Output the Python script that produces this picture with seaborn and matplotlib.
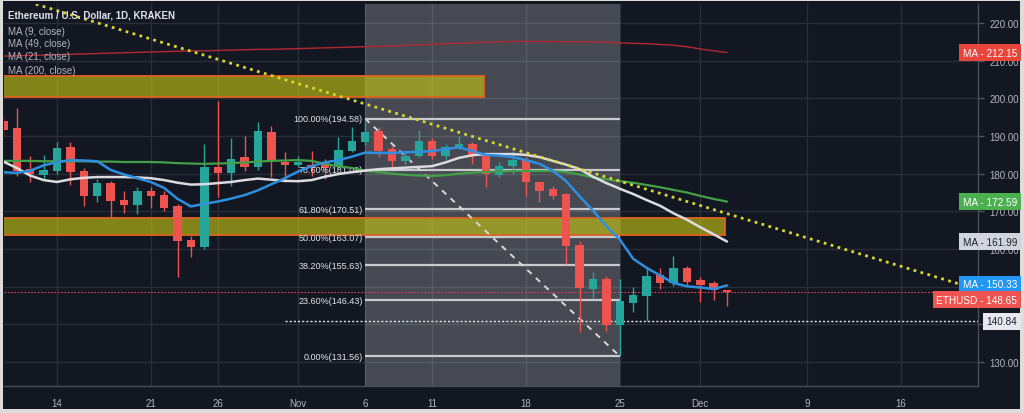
import numpy as np
import pandas as pd
import matplotlib
matplotlib.use("Agg")
import matplotlib.pyplot as plt
import matplotlib.dates as mdates
import seaborn as sns
from matplotlib.transforms import blended_transform_factory
from matplotlib.patches import Rectangle

# ---------------- data ----------------
dates = pd.date_range("2019-10-10", "2019-12-03", freq="D")
opens = [194.0, 192.0, 181.2, 179.6, 180.7, 187.0, 180.7, 174.0, 177.5, 173.0,
         171.7, 175.4, 174.3, 171.4, 162.4, 160.5, 181.8, 180.2, 184.4, 181.8,
         191.0, 183.1, 182.3, 182.4, 183.1, 181.8, 186.0, 188.4, 191.3, 186.6,
         183.4, 184.7, 188.7, 184.7, 186.8, 187.9, 184.7, 179.6, 182.0, 183.6,
         177.8, 176.0, 174.6, 161.0, 149.4, 152.0, 139.8, 145.7, 147.5, 153.1,
         151.0, 155.0, 151.8, 151.0, 149.0]
highs = [195.5, 197.5, 184.7, 185.0, 188.5, 188.5, 181.5, 178.6, 178.0, 175.4,
         176.5, 176.5, 175.4, 172.0, 163.5, 188.0, 199.3, 189.5, 190.0, 193.7,
         192.7, 185.8, 184.7, 186.0, 183.9, 189.7, 192.4, 194.58, 192.4, 187.3,
         185.8, 191.6, 189.5, 187.9, 190.0, 188.4, 185.2, 183.0, 186.0, 184.4,
         177.8, 176.7, 175.0, 162.0, 153.9, 152.8, 152.0, 150.0, 155.2, 155.0,
         158.1, 155.5, 152.6, 151.5, 149.2]
lows = [190.0, 179.5, 177.8, 178.6, 180.0, 177.0, 171.5, 172.5, 168.0, 169.6,
        169.3, 171.0, 170.0, 152.6, 158.0, 160.0, 173.8, 176.7, 180.7, 181.0,
        179.0, 177.8, 181.8, 179.4, 178.6, 181.5, 185.8, 187.5, 184.4, 181.8,
        182.6, 184.4, 183.9, 183.9, 186.6, 182.6, 176.5, 179.0, 180.0, 174.0,
        172.5, 173.3, 156.0, 138.0, 147.0, 138.2, 131.56, 143.3, 140.9, 149.4,
        150.2, 150.2, 146.0, 146.5, 145.0]
closes = [191.5, 180.7, 179.9, 181.0, 186.8, 180.4, 174.0, 177.5, 172.7, 171.7,
          175.4, 174.0, 171.0, 162.0, 160.5, 181.7, 180.2, 184.0, 181.8, 191.3,
          183.4, 182.3, 183.1, 181.6, 181.5, 186.3, 188.7, 191.1, 186.0, 183.4,
          184.7, 188.7, 184.7, 187.1, 187.9, 185.0, 179.9, 182.0, 183.6, 177.8,
          175.4, 174.0, 160.8, 149.7, 152.0, 139.8, 146.2, 147.8, 152.8, 151.0,
          155.0, 151.2, 150.4, 149.0, 148.65]

ma9 = [180.4, 180.2, 180.8, 182.2, 183.1, 183.6, 183.5, 183.3, 181.0, 179.8,
       178.8, 177.8, 176.2, 173.3, 171.3, 172.0, 172.6, 173.4, 174.3, 175.6,
       177.2, 178.8, 180.6, 182.0, 183.0, 183.6, 184.5, 185.6, 185.5, 185.5,
       185.7, 185.8, 186.0, 186.5, 187.0, 186.0, 185.0, 184.8, 184.4, 183.6,
       182.6, 180.8, 178.0, 174.0, 170.2, 166.0, 162.5, 157.4, 155.0, 153.0,
       151.0, 150.1, 149.8, 149.4, 150.33]
ma21 = [183.2, 181.5, 179.5, 178.3, 177.8, 178.5, 178.9, 179.1, 179.1, 179.1,
        179.0, 178.8, 178.3, 177.6, 177.1, 177.2, 177.5, 177.8, 178.3, 178.7,
        178.4, 178.1, 178.0, 178.3, 179.2, 179.9, 180.4, 180.8, 181.2, 181.4,
        181.6, 181.8, 182.0, 183.0, 184.2, 184.9, 185.2, 185.2, 185.2, 185.0,
        184.4, 183.4, 182.4, 181.2, 179.2, 177.5, 176.0, 174.6, 173.0, 171.5,
        169.5, 167.8, 165.8, 163.9, 161.99]
ma49 = [183.4, 183.4, 183.4, 183.3, 183.3, 183.3, 183.3, 183.2, 183.2, 183.1,
        183.1, 183.1, 183.0, 182.8, 182.7, 182.6, 182.7, 182.8, 183.0, 183.2,
        183.4, 183.5, 183.6, 183.4, 182.6, 182.0, 181.5, 180.8, 180.4, 180.0,
        179.7, 179.5, 179.4, 179.6, 180.0, 180.3, 180.5, 180.6, 180.7, 180.7,
        180.7, 180.7, 180.4, 179.8, 179.0, 178.5, 178.0, 177.6, 177.0, 176.4,
        175.7, 175.0, 174.1, 173.3, 172.59]
ma200 = [211.2, 211.3, 211.4, 211.5, 211.6, 211.7, 211.8, 211.9, 212.0, 212.1,
         212.2, 212.3, 212.4, 212.5, 212.6, 212.6, 212.7, 212.8, 212.9, 213.0,
         213.0, 213.1, 213.2, 213.3, 213.4, 213.5, 213.6, 213.7, 213.8, 213.9,
         214.1, 214.2, 214.4, 214.5, 214.6, 214.8, 214.9, 215.0, 215.1, 215.1,
         215.1, 215.1, 215.0, 215.0, 215.0, 214.9, 214.7, 214.6, 214.5, 214.3,
         214.1, 213.7, 213.1, 212.6, 212.15]

fib_levels = [194.58, 181.09, 170.51, 163.07, 155.63, 146.43, 131.56]
fib_labels = ["100.00%(194.58)", "78.60%(181.09)", "61.80%(170.51)", "50.00%(163.07)",
              "38.20%(155.63)", "23.60%(146.43)", "0.00%(131.56)"]
fib_start, fib_end = "2019-11-06", "2019-11-25"

trend_x = ["2019-10-12 10:00", "2019-12-21 00:00"]
trend_y = [225.0, 150.0]

zone_top = (200.3, 206.0, "2019-10-01", "2019-11-14 21:00")
zone_mid = (163.7, 168.3, "2019-10-01", "2019-12-02 20:00")

hline_level = 140.84
last_price = 148.65

xtick_dates = ["2019-10-14", "2019-10-21", "2019-10-26", "2019-11-01", "2019-11-06",
               "2019-11-11", "2019-11-18", "2019-11-25", "2019-12-01", "2019-12-09",
               "2019-12-16"]
xtick_labels = ["14", "21", "26", "Nov", "6", "11", "18", "25", "Dec", "9", "16"]
yticks = [130, 140, 150, 160, 170, 180, 190, 200, 210, 220]
ytick_labels = ["130.00", "", "", "160.00", "170.00", "180.00", "190.00", "200.00",
                "210.00", "220.00"]

legend_lines = ["Ethereum / U.S. Dollar, 1D, KRAKEN", "MA (9, close)", "MA (49, close)",
                "MA (21, close)", "MA (200, close)"]

# ---------------- style ----------------
sns.set_style("dark")
plt.rcParams["font.family"] = ["Liberation Sans", "DejaVu Sans"]

BG = "#131722"
UP = "#26a69a"
DN = "#ef5350"
TXT = "#b2b5be"
GRID = "#2a2e39"

W, H = 1024, 414
fig = plt.figure(figsize=(W / 100, H / 100), dpi=100)
fig.patch.set_facecolor("#dcdcdc")
fig.add_artist(Rectangle((3 / W, 4 / H), 1017 / W, 408 / H, transform=fig.transFigure,
                         facecolor=BG, edgecolor="none", zorder=0))

ax = fig.add_axes([4 / W, 1 - 387 / H, 974 / W, 382 / H])
ax.set_facecolor(BG)

df = pd.DataFrame({"date": dates, "open": opens, "high": highs, "low": lows,
                   "close": closes, "ma9": ma9, "ma21": ma21, "ma49": ma49,
                   "ma200": ma200})
x = mdates.date2num(df["date"])
base = mdates.date2num(pd.Timestamp("2019-10-14"))

# shaded fib region
fs = mdates.date2num(pd.Timestamp(fib_start)); fe = mdates.date2num(pd.Timestamp(fib_end))
ax.axvspan(fs, fe, color="white", alpha=0.22, lw=0, zorder=1)

# zones
for lo, hi, s, e in (zone_top, zone_mid):
    s_n = mdates.date2num(pd.Timestamp(s)); e_n = mdates.date2num(pd.Timestamp(e))
    ax.add_patch(Rectangle((s_n, lo), e_n - s_n, hi - lo, facecolor="#c8c814", alpha=0.62,
                           edgecolor="none", zorder=2))
    ax.add_patch(Rectangle((s_n, lo), e_n - s_n, hi - lo, facecolor="none",
                           edgecolor="#e0641e", lw=1.3, zorder=2.1))

# fib lines
for lvl, lab in zip(fib_levels, fib_labels):
    ax.hlines(lvl, fs, fe, color="#c9c9cf", lw=1.6, zorder=3)
    ax.text(fs - 0.2, lvl, lab, ha="right", va="center", color="#e6e6ea", fontsize=6.5,
            zorder=6)
ax.plot([fs, fe], [fib_levels[0], fib_levels[-1]], color="#d8d8dc", lw=1.4,
        ls=(0, (3, 3)), zorder=3)

# price line & horizontal ray
ax.axhline(last_price, color="#e0405a", lw=0.8, ls=(0, (1.5, 1.5)), zorder=3)
ax.hlines(hline_level, mdates.date2num(pd.Timestamp("2019-10-31")), base + 80,
          color="#e8e8ec", lw=1.0, ls=(0, (1.5, 1.5)), zorder=3)

# candles
colors = [UP if c >= o else DN for o, c in zip(opens, closes)]
ax.vlines(x, lows, highs, colors=colors, lw=1.0, zorder=4)
body_lo = np.minimum(opens, closes)
body_h = np.maximum(np.abs(np.array(closes) - np.array(opens)), 0.35)
ax.bar(x, body_h, bottom=body_lo, width=0.64, color=colors, lw=0, zorder=5)

# moving averages
sns.lineplot(x=x, y=df["ma200"], ax=ax, color="#b22833", lw=1.0, zorder=6)
sns.lineplot(x=x, y=df["ma49"], ax=ax, color="#43a047", lw=1.6, zorder=6)
sns.lineplot(x=x, y=df["ma21"], ax=ax, color="#dcdce0", lw=1.8, zorder=6)
sns.lineplot(x=x, y=df["ma9"], ax=ax, color="#2e8fe0", lw=1.8, zorder=6)

# trendline
tx = mdates.date2num(pd.to_datetime(trend_x))
ax.plot(tx, trend_y, color="#d8d830", lw=2.0, ls=(0, (1, 1.6)), zorder=7)

# axes formatting
ax.set_xlim(base - 3.955, base + 68.73)
ax.set_ylim(123.64, 225.04)
ax.set_xlabel(""); ax.set_ylabel("")
ax.yaxis.tick_right()
ax.set_yticks(yticks)
ax.set_yticklabels(ytick_labels)
xt = mdates.date2num(pd.to_datetime(xtick_dates))
ax.set_xticks(xt)
ax.set_xticklabels(xtick_labels)
ax.tick_params(axis="both", colors="#50535e", labelcolor=TXT, labelsize=7, length=4,
               width=1)
ax.tick_params(axis="x", pad=5)
ax.tick_params(axis="y", pad=4)
ax.grid(True, color=GRID, lw=1.0, zorder=0)
ax.set_axisbelow(True)
for s in ("top", "left"):
    ax.spines[s].set_visible(False)
for s in ("right", "bottom"):
    ax.spines[s].set_color("#4a4e5a")
    ax.spines[s].set_linewidth(1.0)

# right-axis value labels
tr = blended_transform_factory(fig.transFigure, ax.transData)
def tag(y, text, bg, fg, offset=0):
    ax.annotate(text, xy=(1017 / W, y), xycoords=tr, xytext=(0, offset),
                textcoords="offset pixels", ha="right", va="center", fontsize=7.2,
                color=fg, zorder=10, annotation_clip=False,
                bbox=dict(boxstyle="square,pad=0.35", fc=bg, ec="none"))

tag(ma200[-1], f"MA - {ma200[-1]:.2f}", "#e8453c", "white")
tag(ma49[-1], f"MA - {ma49[-1]:.2f}", "#4caf50", "white")
tag(ma21[-1], f"MA - {ma21[-1]:.2f}", "#d1d4dc", "#1e222d")
tag(ma9[-1], f"MA - {ma9[-1]:.2f}", "#2196f3", "white", offset=1)
tag(last_price, f"ETHUSD - {last_price:.2f}", "#ef5350", "white", offset=-8)
tag(hline_level, f"{hline_level:.2f}", "#e6e8ee", "#1e222d")

# legend text
ys = [16, 32, 44, 57, 71]
for i, (t, yy) in enumerate(zip(legend_lines, ys)):
    fig.text(8 / W, 1 - yy / H, t, ha="left", va="center",
             fontsize=7.0, color="#e0e3eb" if i == 0 else TXT,
             fontweight="bold" if i == 0 else "normal", zorder=10)

fig.savefig("out.png", dpi=100, facecolor=fig.get_facecolor())
